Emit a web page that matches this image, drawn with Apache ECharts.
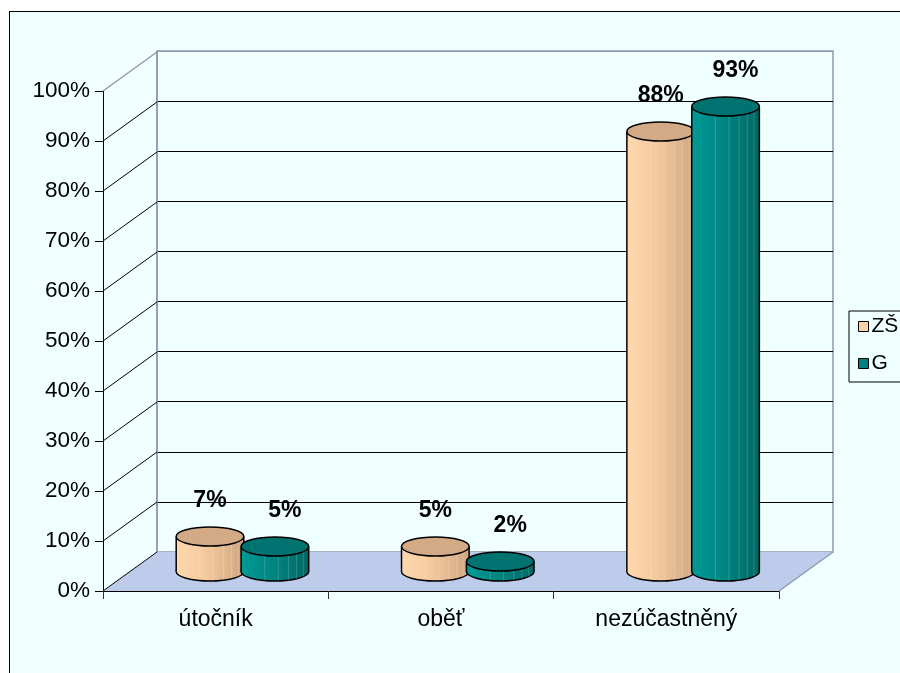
<!DOCTYPE html>
<html>
<head>
<meta charset="utf-8">
<script src="https://cdn.jsdelivr.net/npm/echarts@6/dist/echarts.min.js"></script>
<style>
  html, body { margin: 0; padding: 0; background: #ffffff; }
  #bg { position: absolute; left: 9px; top: 11px; width: 1000px; height: 1000px;
        border-left: 1px solid #000; border-top: 1px solid #000; background: #F0FFFF; }
  #chart { position: absolute; left: 0; top: 0; width: 900px; height: 673px; }
</style>
</head>
<body>
<div id="bg"></div>
<div id="chart"></div>
<script>
// ---- data ----
const categories = ['útočník', 'oběť', 'nezúčastněný'];
const seriesNames = ['ZŠ', 'G'];
const zsValues = [7, 5, 88];
const gValues = [5, 2, 93];
const yTickValues = [0, 10, 20, 30, 40, 50, 60, 70, 80, 90, 100];

// ---- layout / style constants ----
const DX = 54, DY = -39;           // 3D depth offset
const FONT = '"Liberation Sans", Arial, sans-serif';
const WALL = '#8D9AB0';

const chart = echarts.init(document.getElementById('chart'), null, { renderer: 'canvas' });

function cylinder(offset, bodyStops, topColor, labelDx) {
  return function (params, api) {
    const idx = api.value(0), val = api.value(1);
    const band = api.size([1, 0])[0];
    const base = api.coord([idx, 0]);
    const top = api.coord([idx, val]);
    const cx = base[0] + offset * band + DX / 2;
    const by = base[1] + DY / 2, ty = top[1] + DY / 2;
    const rx = band * 0.15, ry = 9.5;
    const grad = () => new echarts.graphic.LinearGradient(0, 0, 1, 0, bodyStops);
    const stripes = [];
    [0.35, 0.55, 0.7, 0.82, 0.92].forEach(f => {
      stripes.push({ type: 'line', shape: { x1: cx - rx + f * 2 * rx, y1: ty, x2: cx - rx + f * 2 * rx, y2: by + ry * Math.sqrt(1 - Math.pow(2 * f - 1, 2)) },
        style: { stroke: 'rgba(255,255,255,0.18)', lineWidth: 1 } });
    });
    return {
      type: 'group',
      children: [
        { type: 'ellipse', shape: { cx: cx, cy: by, rx: rx, ry: ry }, style: { fill: grad(), stroke: '#000', lineWidth: 1.5 } },
        { type: 'rect', shape: { x: cx - rx, y: ty, width: 2 * rx, height: by - ty }, style: { fill: grad() } },
        ...stripes,
        { type: 'line', shape: { x1: cx - rx, y1: ty, x2: cx - rx, y2: by }, style: { stroke: '#000', lineWidth: 1.5 } },
        { type: 'line', shape: { x1: cx + rx, y1: ty, x2: cx + rx, y2: by }, style: { stroke: '#000', lineWidth: 1.5 } },
        { type: 'ellipse', shape: { cx: cx, cy: ty, rx: rx, ry: ry }, style: { fill: topColor, stroke: '#000', lineWidth: 1.5 } },
        { type: 'text', style: { text: val + '%', x: cx + labelDx, y: ty - 36, align: 'center', verticalAlign: 'middle',
            font: 'bold 23px ' + FONT, fill: '#000' } }
      ]
    };
  };
}

const splitColors = yTickValues.map((v, i) => (i === 0 || i === yTickValues.length - 1) ? WALL : '#000');

const option = {
  backgroundColor: 'transparent',
  animation: false,
  legend: {
    data: seriesNames,
    orient: 'vertical',
    left: 849, top: 311,
    padding: [5, 8, 8, 9],
    itemGap: 16,
    itemWidth: 10, itemHeight: 10,
    icon: 'rect',
    borderColor: '#000', borderWidth: 1,
    itemStyle: { borderColor: '#000', borderWidth: 1 },
    textStyle: { fontFamily: FONT, fontSize: 21, color: '#000', padding: [0, 0, 0, -2] }
  },
  grid: [
    { left: 157, top: 51, width: 676, height: 501, show: true, borderColor: WALL, borderWidth: 1.5, backgroundColor: 'transparent' },
    { left: 103, top: 91, width: 676, height: 500 }
  ],
  xAxis: [
    { gridIndex: 0, type: 'category', data: categories, show: false },
    { gridIndex: 1, type: 'category', data: categories,
      axisLine: { lineStyle: { color: '#000', width: 1 } },
      axisTick: { show: true, length: 8, lineStyle: { color: '#333' } },
      axisLabel: { margin: 17, color: '#000', fontFamily: FONT, fontSize: 23 } }
  ],
  yAxis: [
    { gridIndex: 0, type: 'value', min: 0, max: 100, interval: 10,
      axisLine: { show: true, lineStyle: { color: WALL, width: 1.5 } },
      axisTick: { show: false }, axisLabel: { show: false },
      splitLine: { show: true, lineStyle: { color: splitColors, width: 1 } } },
    { gridIndex: 1, type: 'value', min: 0, max: 100, interval: 10,
      axisLine: { show: true, lineStyle: { color: '#000', width: 1 } },
      axisTick: { show: true, length: 8, lineStyle: { color: '#000' } },
      splitLine: { show: false },
      axisLabel: { formatter: '{value}%', margin: 13, color: '#000', fontFamily: FONT, fontSize: 22.5 } }
  ],
  series: [
    { // floor
      type: 'custom', name: 'floor', xAxisIndex: 1, yAxisIndex: 1, z: 1, silent: true,
      data: [[0, 0]],
      renderItem: function (params, api) {
        const cs = params.coordSys;
        const y0 = api.coord([0, 0])[1];
        const x0 = cs.x, x1 = cs.x + cs.width;
        return { type: 'group', children: [
          { type: 'polygon', shape: { points: [[x0, y0], [x1, y0], [x1 + DX, y0 + DY], [x0 + DX, y0 + DY]] },
            style: { fill: '#BCCCEA', stroke: null } },
          { type: 'line', shape: { x1: x1, y1: y0, x2: x1 + DX, y2: y0 + DY }, style: { stroke: WALL, lineWidth: 1.5 } }
        ] };
      }
    },
    { // side diagonals
      type: 'custom', name: 'diag', xAxisIndex: 1, yAxisIndex: 1, z: 2, silent: true,
      data: yTickValues.map(v => [0, v]),
      renderItem: function (params, api) {
        const cs = params.coordSys;
        const v = api.value(1);
        const y = api.coord([0, v])[1];
        return { type: 'line', shape: { x1: cs.x, y1: y, x2: cs.x + DX, y2: y + DY },
          style: { stroke: v === 100 ? WALL : '#000', lineWidth: v === 100 ? 1.5 : 1 } };
      }
    },
    {
      type: 'custom', name: 'ZŠ', xAxisIndex: 1, yAxisIndex: 1, z: 5,
      itemStyle: { color: '#FFD3A5' },
      data: zsValues.map((v, i) => [i, v]),
      renderItem: cylinder(-0.145, [
        { offset: 0, color: '#FFD8AE' }, { offset: 0.4, color: '#F6CBA0' },
        { offset: 0.8, color: '#DDB38D' }, { offset: 1, color: '#CFA57F' }], '#D2AA86', 0)
    },
    {
      type: 'custom', name: 'G', xAxisIndex: 1, yAxisIndex: 1, z: 6,
      itemStyle: { color: '#008080' },
      data: gValues.map((v, i) => [i, v]),
      renderItem: cylinder(0.143, [
        { offset: 0, color: '#009A96' }, { offset: 0.4, color: '#008985' },
        { offset: 0.8, color: '#00736F' }, { offset: 1, color: '#006763' }], '#007270', 10)
    }
  ]
};
chart.setOption(option);
</script>
</body>
</html>
